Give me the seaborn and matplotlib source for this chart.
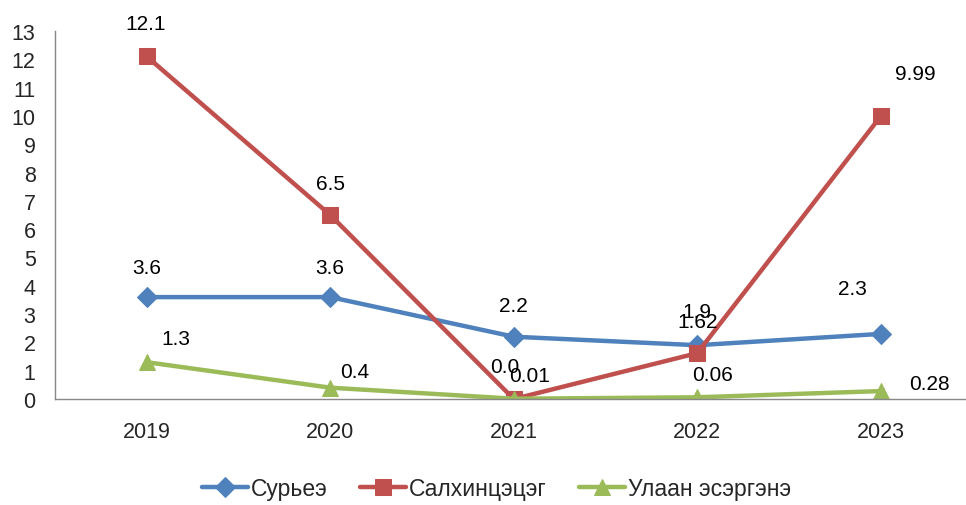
import matplotlib
matplotlib.use("Agg")
import matplotlib.pyplot as plt
import seaborn as sns
import pandas as pd

years = ["2019", "2020", "2021", "2022", "2023"]
series_names = ["Сурьеэ", "Салхинцэцэг", "Улаан эсэргэнэ"]
suryee = [3.6, 3.6, 2.2, 1.9, 2.3]
salkhi = [12.1, 6.5, 0.0, 1.62, 9.99]
ulaan = [1.3, 0.4, 0.01, 0.06, 0.28]
label_text = [
    ["3.6", "3.6", "2.2", "1.9", "2.3"],
    ["12.1", "6.5", "0.0", "1.62", "9.99"],
    ["1.3", "0.4", "0.01", "0.06", "0.28"],
]
yticks = list(range(0, 14))

sns.set_theme(style="white")
plt.rcParams['font.family'] = ['Liberation Sans', 'DejaVu Sans']

colors = ["#4F81BD", "#C0504D", "#9BBB59"]
markers = ["D", "s", "^"]
msizes = [10, 12, 11]

rows = []
for name, vals in zip(series_names, [suryee, salkhi, ulaan]):
    for i, v in enumerate(vals):
        rows.append({"pos": i, "value": v, "series": name})
df = pd.DataFrame(rows)

fig = plt.figure(figsize=(9.66, 5.06), dpi=100)
ax = fig.add_axes([55/966, 106/506, 911/966, 368/506])

for k, name in enumerate(series_names):
    sub = df[df.series == name]
    sns.lineplot(data=sub, x="pos", y="value", ax=ax, color=colors[k],
                 marker=markers[k], markersize=msizes[k], linewidth=3.2,
                 markeredgecolor=colors[k], label=name, legend=False)

offsets = [
    [(0, 30), (0, 30), (0, 31), (0, 34), (-28, 45)],
    [(-1, 33), (0, 31), (-9, 32), (0, 32), (35, 43)],
    [(29, 24), (24, 16), (16, 23), (15, 23), (49, 8)],
]
for k, vals in enumerate([suryee, salkhi, ulaan]):
    for i, v in enumerate(vals):
        ax.annotate(label_text[k][i], (i, v), xytext=offsets[k][i],
                    textcoords="offset pixels", ha="center", va="center",
                    fontsize=15, color="black")

ax.set_xlim(-0.5, -0.5 + 911/183.5)
ax.set_ylim(0, 13)
ax.set_yticks(yticks)
ax.set_yticklabels([str(t) for t in yticks], fontsize=15.5)
ax.set_xticks(range(len(years)))
ax.set_xticklabels(years, fontsize=15.5)
ax.tick_params(axis="y", length=0, pad=14)
ax.tick_params(axis="x", length=0, pad=16)
ax.set_xlabel("")
ax.set_ylabel("")
for s in ["top", "right"]:
    ax.spines[s].set_visible(False)
for s in ["left", "bottom"]:
    ax.spines[s].set_color("#888888")
    ax.spines[s].set_linewidth(1)
ax.grid(False)

handles, labels = ax.get_legend_handles_labels()
fig.legend(handles, labels, loc="lower center", bbox_to_anchor=(0.514, -0.03),
           ncol=3, frameon=False, fontsize=16.5, handlelength=2.0,
           columnspacing=1.4, handletextpad=0.15)

fig.savefig("out.png", dpi=100)
